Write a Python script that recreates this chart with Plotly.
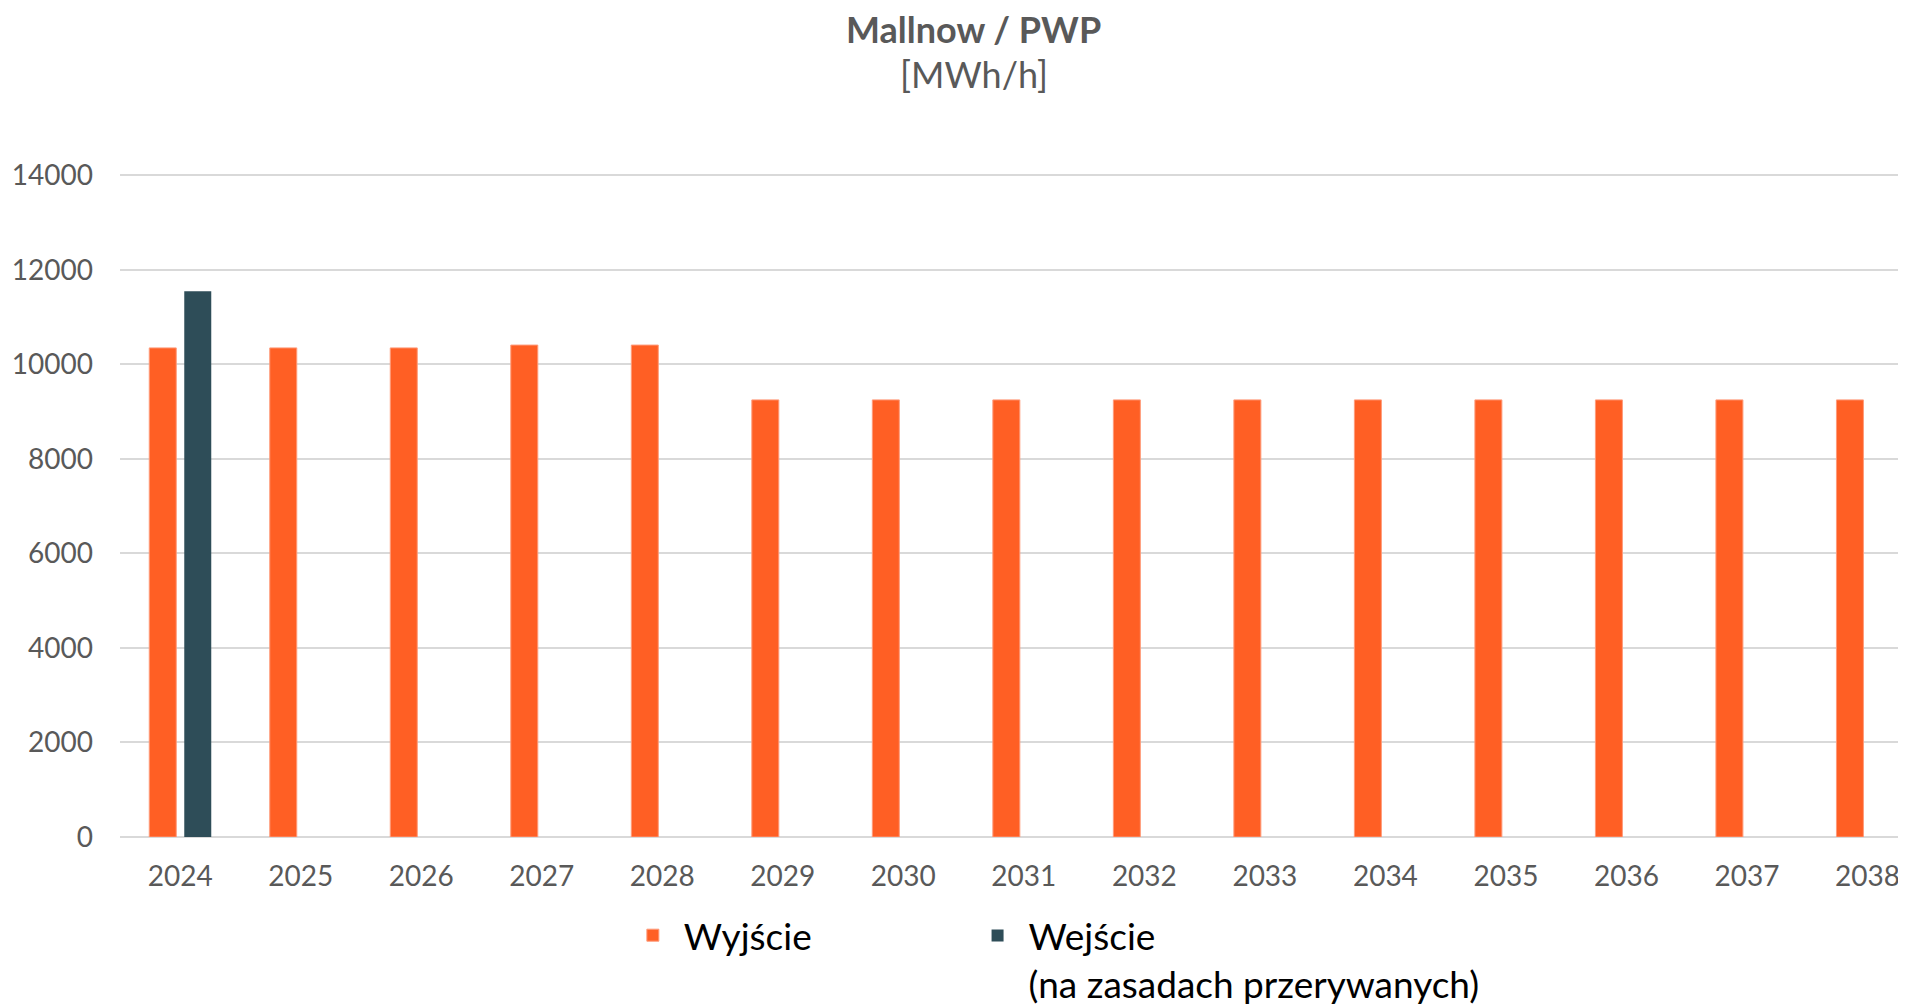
import plotly.graph_objects as go

years = ["2024", "2025", "2026", "2027", "2028", "2029", "2030", "2031",
         "2032", "2033", "2034", "2035", "2036", "2037", "2038"]
wyjscie = [10350, 10350, 10350, 10410, 10410, 9250, 9250, 9250,
           9250, 9250, 9250, 9250, 9250, 9250, 9250]
wejscie = [11550, 0, 0, 0, 0, 0, 0, 0, 0, 0, 0, 0, 0, 0, 0]
y_ticks = [0, 2000, 4000, 6000, 8000, 10000, 12000, 14000]
y_labels = ["0", "2000", "4000", "6000", "8000", "10000", "12000", "14000"]

FONT = "Lato"
ORANGE = "#FF5F24"
DARK = "#2E4D58"
GRAY = "#595959"

fig = go.Figure()
fig.add_trace(go.Bar(
    x=years, y=wyjscie, name="Wyjście", legend="legend",
    marker=dict(color=ORANGE, line=dict(color="#FF9B7A", width=1)),
))
fig.add_trace(go.Bar(
    x=years, y=wejscie, name="Wejście<br>(na zasadach przerywanych)",
    legend="legend2",
    marker=dict(color=DARK, line=dict(width=0)),
))

legend_common = dict(
    orientation="h", xanchor="left", yanchor="top",
    font=dict(family=FONT, size=37, color="#000000"),
    itemwidth=52, valign="top", bgcolor="rgba(0,0,0,0)",
)

fig.update_layout(
    width=1898, height=999,
    margin=dict(l=112, r=0, t=166, b=170, autoexpand=False),
    paper_bgcolor="white", plot_bgcolor="white",
    barmode="group", bargap=0.419, bargroupgap=0.229,
    font=dict(family=FONT, color=GRAY),
    showlegend=True,
    legend=dict(legend_common, x=0.281, y=-0.102),
    legend2=dict(legend_common, x=0.474, y=-0.1025),
    xaxis=dict(
        type="category", range=[-0.5, 14.32],
        showgrid=False, showline=False, zeroline=False, ticks="",
        tickfont=dict(family=FONT, size=28, color=GRAY),
        ticklabelstandoff=20,
    ),
    yaxis=dict(
        range=[0, 14030], tickvals=y_ticks, ticktext=y_labels,
        showgrid=True, gridcolor="#D9D9D9", gridwidth=2,
        zeroline=True, zerolinecolor="#D9D9D9", zerolinewidth=2,
        showline=False, ticks="",
        tickfont=dict(family=FONT, size=28, color=GRAY),
        ticklabelstandoff=26,
    ),
    annotations=[
        dict(text="<b>Mallnow / PWP</b>", xref="paper", yref="paper",
             x=0.478, y=1.219, xanchor="center", yanchor="middle",
             showarrow=False, font=dict(family=FONT, size=36, color=GRAY)),
        dict(text="[MWh/h]", xref="paper", yref="paper",
             x=0.478, y=1.1508, xanchor="center", yanchor="middle",
             showarrow=False, font=dict(family=FONT, size=36, color=GRAY)),
    ],
)

fig.write_html("out.html")
